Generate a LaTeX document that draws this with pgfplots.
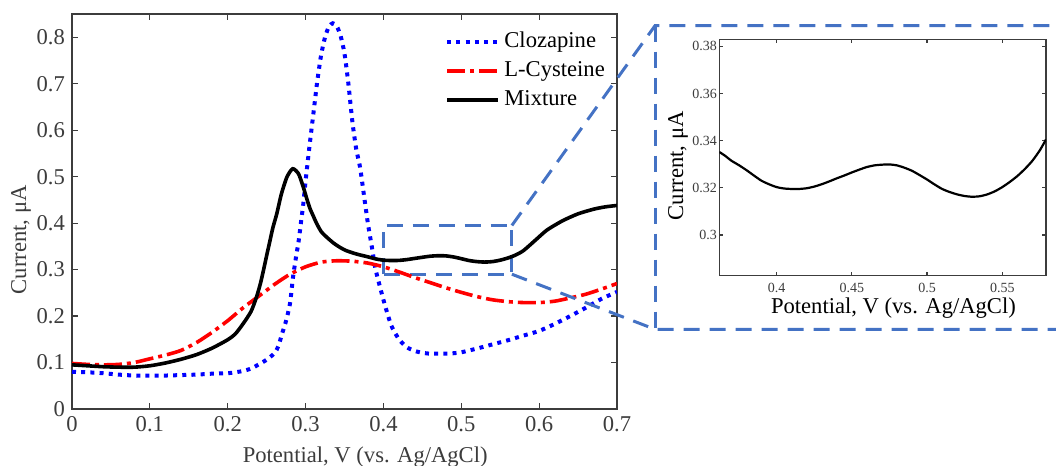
\documentclass[border=0pt]{standalone}
\usepackage{fontspec}
\setmainfont{Liberation Serif}
\usepackage{pgfplots}
\pgfplotsset{compat=1.18}
\definecolor{axgray}{RGB}{60,60,60}
\definecolor{boxblue}{RGB}{68,114,196}

\begin{document}
\begin{tikzpicture}
\useasboundingbox (0,0) rectangle (528pt,233pt);
\begin{axis}[
  at={(36pt,28.5pt)}, anchor=south west, scale only axis,
  width=272.5pt, height=197.5pt,
  xmin=0, xmax=0.7, ymin=0, ymax=0.85,
  xtick={0,0.1,0.2,0.3,0.4,0.5,0.6,0.7},
  ytick={0,0.1,0.2,0.3,0.4,0.5,0.6,0.7,0.8},
  tick align=inside, major tick length=3pt,
  axis line style={axgray, line width=0.6pt},
  tick style={axgray, line width=0.6pt},
  /pgf/number format/assume math mode=true,
  ticklabel style={font=\fontsize{11.3}{13}\selectfont, text=axgray},
  label style={font=\fontsize{11.3}{13}\selectfont, text=axgray},
  xlabel={Potential, V (vs. Ag/AgCl)},
  ylabel={Current, μA},
  xlabel style={at={(axis description cs:0.538,-0.1215)}, anchor=center},
  ylabel style={at={(axis description cs:-0.0936,0.428)}, anchor=center},
  legend style={at={(0.684,0.965)}, anchor=north west, draw=none, fill=none,
    font=\fontsize{11.3}{13}\selectfont, row sep=1.5pt, inner sep=0pt},
  legend cell align=left,
  legend image code/.code={\draw[#1] (0cm,0cm) -- (0.9cm,0cm);},
]
\draw[boxblue, line width=1.5pt, dash pattern=on 8pt off 5pt] (axis cs:0.40,0.29) rectangle (axis cs:0.565,0.395);
\coordinate (TR) at (axis cs:0.565,0.395);
\coordinate (BR) at (axis cs:0.565,0.29);

\addplot[blue, line width=2pt, dash pattern=on 2pt off 2.6pt, smooth, tension=0.4] coordinates {
(0,0.080) (0.02,0.079) (0.04,0.077) (0.06,0.074) (0.08,0.072) (0.10,0.072) (0.12,0.072) (0.14,0.073) (0.16,0.074) (0.18,0.076) (0.20,0.077) (0.21,0.079) (0.22,0.082) (0.23,0.087) (0.24,0.096) (0.25,0.106) (0.26,0.120) (0.265,0.135) (0.27,0.163) (0.275,0.19) (0.28,0.227) (0.284,0.285) (0.288,0.33) (0.291,0.36) (0.294,0.40) (0.297,0.44) (0.30,0.49) (0.305,0.565) (0.31,0.635) (0.315,0.705) (0.32,0.762) (0.325,0.80) (0.33,0.823) (0.335,0.830) (0.34,0.824) (0.345,0.803) (0.35,0.765) (0.355,0.70) (0.36,0.62) (0.365,0.56) (0.37,0.52) (0.375,0.46) (0.38,0.40) (0.385,0.35) (0.39,0.30) (0.40,0.235) (0.41,0.18) (0.42,0.15) (0.43,0.133) (0.44,0.125) (0.45,0.121) (0.46,0.119) (0.47,0.119) (0.48,0.119) (0.49,0.12) (0.50,0.122) (0.52,0.130) (0.54,0.139) (0.56,0.148) (0.58,0.158) (0.60,0.168) (0.62,0.183) (0.64,0.200) (0.66,0.218) (0.68,0.237) (0.70,0.252)
};
\addlegendentry{Clozapine}

\addplot[red, line width=1.8pt, dash pattern=on 9pt off 2.5pt on 2pt off 2.5pt, smooth, tension=0.4] coordinates {
(0,0.098) (0.02,0.096) (0.04,0.095) (0.06,0.096) (0.08,0.10) (0.10,0.108) (0.12,0.116) (0.14,0.126) (0.16,0.143) (0.18,0.165) (0.20,0.190) (0.22,0.218) (0.24,0.243) (0.26,0.268) (0.28,0.290) (0.30,0.306) (0.32,0.316) (0.34,0.319) (0.36,0.318) (0.38,0.314) (0.40,0.306) (0.42,0.295) (0.44,0.283) (0.46,0.272) (0.48,0.261) (0.50,0.251) (0.52,0.242) (0.54,0.235) (0.56,0.231) (0.58,0.229) (0.60,0.229) (0.62,0.232) (0.64,0.239) (0.66,0.247) (0.68,0.258) (0.70,0.27)
};
\addlegendentry{L-Cysteine}

\addplot[black, line width=1.8pt, smooth, tension=0.4] coordinates {
(0,0.095) (0.02,0.093) (0.04,0.091) (0.06,0.090) (0.08,0.090) (0.10,0.093) (0.12,0.099) (0.14,0.107) (0.16,0.117) (0.18,0.131) (0.20,0.149) (0.21,0.162) (0.22,0.184) (0.23,0.21) (0.237,0.241) (0.242,0.27) (0.246,0.299) (0.25,0.33) (0.254,0.36) (0.258,0.39) (0.263,0.42) (0.269,0.463) (0.276,0.499) (0.2835,0.517) (0.291,0.506) (0.297,0.478) (0.302,0.45) (0.306,0.43) (0.31,0.415) (0.314,0.40) (0.32,0.382) (0.327,0.37) (0.336,0.357) (0.345,0.347) (0.352,0.341) (0.362,0.3352) (0.37,0.3315) (0.38,0.3275) (0.39,0.3230) (0.40,0.3203) (0.41,0.3195) (0.42,0.3198) (0.43,0.3215) (0.44,0.3240) (0.45,0.3265) (0.46,0.3288) (0.47,0.3298) (0.48,0.3295) (0.49,0.3272) (0.50,0.3235) (0.51,0.3195) (0.52,0.3172) (0.53,0.3162) (0.54,0.3172) (0.55,0.3203) (0.56,0.3250) (0.57,0.3315) (0.58,0.3410) (0.595,0.363) (0.61,0.385) (0.63,0.405) (0.65,0.42) (0.67,0.43) (0.685,0.435) (0.70,0.438)
};
\addlegendentry{Mixture}
\end{axis}

\begin{axis}[
  at={(359.65pt,95.15pt)}, anchor=south west, scale only axis,
  width=163.35pt, height=118.2pt,
  xmin=0.362, xmax=0.579, ymin=0.2827, ymax=0.383,
  xtick={0.4,0.45,0.5,0.55},
  ytick={0.3,0.32,0.34,0.36,0.38},
  tick align=inside, major tick length=2pt,
  axis line style={axgray, line width=0.6pt},
  tick style={axgray, line width=0.6pt},
  /pgf/number format/assume math mode=true,
  ticklabel style={font=\fontsize{7}{8}\selectfont, text=axgray},
  yticklabel style={inner sep=1pt},
  label style={font=\fontsize{11.3}{13}\selectfont, text=black},
  xlabel={Potential, V (vs. Ag/AgCl)},
  ylabel={Current, μA},
  xlabel style={at={(axis description cs:0.533,-0.1366)}, anchor=center},
  ylabel style={at={(axis description cs:-0.1264,0.465)}, anchor=center},
]
\addplot[black, line width=1.1pt, smooth, tension=0.4] coordinates {
(0.362,0.3352) (0.366,0.3335) (0.37,0.3315) (0.375,0.3296) (0.38,0.3275) (0.385,0.3252) (0.39,0.3230) (0.395,0.3215) (0.40,0.3203) (0.405,0.3197) (0.41,0.3195) (0.415,0.3195) (0.42,0.3198) (0.425,0.3205) (0.43,0.3215) (0.435,0.3227) (0.44,0.3240) (0.445,0.3252) (0.45,0.3265) (0.455,0.3277) (0.46,0.3288) (0.465,0.3295) (0.47,0.3298) (0.475,0.3299) (0.48,0.3295) (0.485,0.3285) (0.49,0.3272) (0.495,0.3254) (0.50,0.3235) (0.505,0.3214) (0.51,0.3195) (0.515,0.3182) (0.52,0.3172) (0.525,0.3165) (0.53,0.3162) (0.535,0.3164) (0.54,0.3172) (0.545,0.3185) (0.55,0.3203) (0.555,0.3225) (0.56,0.3250) (0.565,0.3280) (0.57,0.3315) (0.575,0.3360) (0.579,0.3405)
};
\end{axis}

\draw[boxblue, line width=1.5pt, dash pattern=on 8pt off 5pt]
  (TR) -- (327.5pt,220.15pt) -- (528pt,220.15pt);
\draw[boxblue, line width=1.5pt, dash pattern=on 8pt off 5pt]
  (BR) -- (327.5pt,68.35pt) -- (528pt,68.35pt);
\draw[boxblue, line width=1.5pt, dash pattern=on 8pt off 5pt]
  (327.5pt,220.15pt) -- (327.5pt,68.35pt);
\end{tikzpicture}
\end{document}
